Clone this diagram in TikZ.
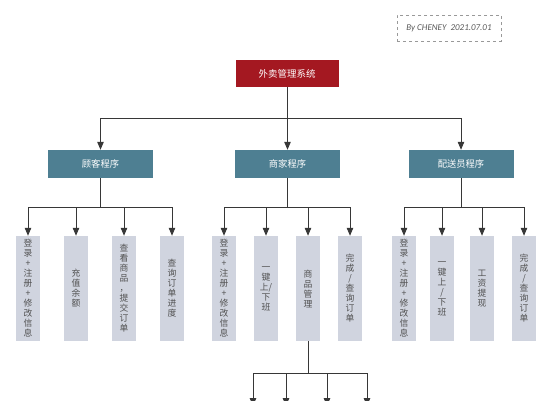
\documentclass[tikz,border=0pt]{standalone}
\usepackage{fontspec}
\setmainfont{Noto Sans CJK SC}
\newfontfamily\notefont{Carlito}
\usetikzlibrary{arrows.meta}

\definecolor{rootred}{RGB}{164,24,33}
\definecolor{progteal}{RGB}{78,127,146}
\definecolor{leafgray}{RGB}{208,212,223}
\definecolor{leaftext}{RGB}{80,80,80}
\definecolor{linegray}{RGB}{55,55,55}

\begin{document}
\begin{tikzpicture}[x=1pt,y=-1pt,
    rootbox/.style={fill=rootred,text=white,minimum width=103pt,minimum height=27pt,inner sep=0pt,font=\fontsize{9.5}{11}\selectfont},
    progbox/.style={fill=progteal,text=white,minimum width=105pt,minimum height=28pt,inner sep=0pt,font=\fontsize{9.3}{10}\selectfont},
    leafbox/.style={fill=leafgray,text=leaftext,minimum width=24pt,minimum height=105pt,inner sep=0pt,align=center,font=\fontsize{8.8}{10}\selectfont},
    link/.style={draw=linegray,line width=1pt},
    arr/.style={link,-{Triangle[length=8pt,width=6.5pt]}}]
    \useasboundingbox (0,0) rectangle (552,400);
    \clip (0,0) rectangle (552,400);

    % note box
    \node[draw=gray!80,dashed,text=gray!70!black,minimum width=104pt,minimum height=26pt,inner sep=0pt,
          font=\notefont\itshape\fontsize{9}{10}\selectfont] (note) at (449,28) {By CHENEY\ \ 2021.07.01};

    % top level
    \node[rootbox] (sys) at (287,73.5) {外卖管理系统};

    \node[progbox] (cust) at (100.5,164) {顾客程序};
    \node[progbox] (shop) at (287.5,164) {商家程序};
    \node[progbox] (rider) at (461,164) {配送员程序};

    \coordinate (sys-bus) at (287,118);
    \draw[link] (sys.south) -- (sys-bus);
    \foreach \n in {cust,shop,rider}
        \draw[arr] (sys-bus) -| (\n.north);

    % customer
    \node[leafbox] (c1) at (28,288.5) {登\\录\\+\\注\\册\\+\\修\\改\\信\\息};
    \node[leafbox] (c2) at (76,288.5) {充\\值\\余\\额};
    \node[leafbox] (c3) at (124,288.5) {查\\看\\商\\品\\，\\提\\交\\订\\单};
    \node[leafbox] (c4) at (172,288.5) {查\\询\\订\\单\\进\\度};

    % shop
    \node[leafbox] (s1) at (224,288.5) {登\\录\\+\\注\\册\\+\\修\\改\\信\\息};
    \node[leafbox] (s2) at (266,288.5) {一\\键\\上/\\下\\班};
    \node[leafbox] (s3) at (308,288.5) {商\\品\\管\\理};
    \node[leafbox] (s4) at (350,288.5) {完\\成\\/\\查\\询\\订\\单};

    % rider
    \node[leafbox] (r1) at (404,288.5) {登\\录\\+\\注\\册\\+\\修\\改\\信\\息};
    \node[leafbox] (r2) at (442,288.5) {一\\键\\上\\/\\下\\班};
    \node[leafbox] (r3) at (482,288.5) {工\\资\\提\\现};
    \node[leafbox] (r4) at (524,288.5) {完\\成\\/\\查\\询\\订\\单};

    \coordinate (cust-bus) at (100.5,207);
    \coordinate (shop-bus) at (287.5,207);
    \coordinate (rider-bus) at (461,207);
    \draw[link] (cust.south) -- (cust-bus);
    \draw[link] (shop.south) -- (shop-bus);
    \draw[link] (rider.south) -- (rider-bus);
    \foreach \n in {c1,c2,c3,c4}
        \draw[arr] (cust-bus) -| (\n.north);
    \foreach \n in {s1,s2,s3,s4}
        \draw[arr] (shop-bus) -| (\n.north);
    \foreach \n in {r1,r2,r3,r4}
        \draw[arr] (rider-bus) -| (\n.north);

    % goods management, cut off at the bottom
    \coordinate (s3-bus) at (308,373);
    \coordinate (g1) at (253,406);
    \coordinate (g2) at (286,406);
    \coordinate (g3) at (327,406);
    \coordinate (g4) at (367,406);
    \draw[link] (s3.south) -- (s3-bus);
    \foreach \n in {g1,g2,g3,g4}
        \draw[arr] (s3-bus) -| (\n);
\end{tikzpicture}
\end{document}
